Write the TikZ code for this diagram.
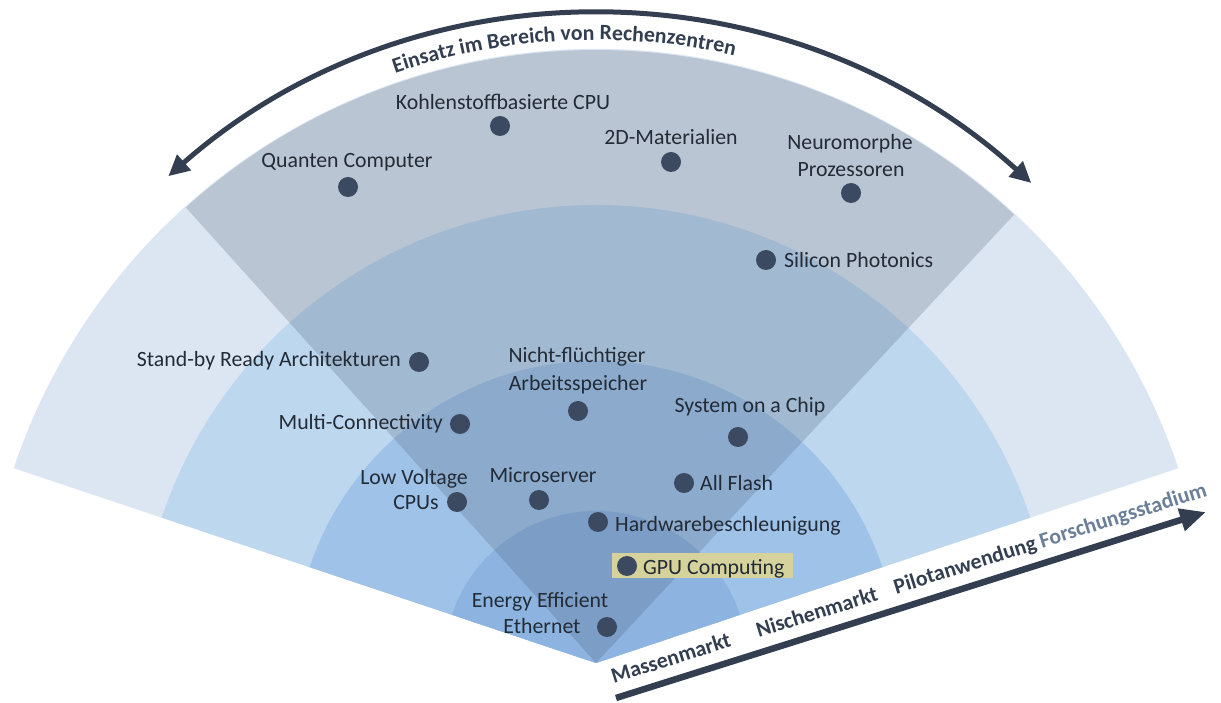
\documentclass[tikz,border=0pt]{standalone}
\usepackage{fontspec}
\setmainfont{Carlito}
\usetikzlibrary{arrows.meta,decorations.text}
\definecolor{ringA}{HTML}{DCE6F2}
\definecolor{ringB}{HTML}{BDD7EE}
\definecolor{ringC}{HTML}{9FC3E8}
\definecolor{ringD}{HTML}{8DB4E1}
\definecolor{wedgec}{HTML}{44546A}
\definecolor{axc}{HTML}{333F50}
\definecolor{dotc}{HTML}{3B4A60}
\definecolor{txt}{HTML}{232B36}
\definecolor{forsch}{HTML}{6B7F99}
\definecolor{hlc}{HTML}{D6D29C}
\newcommand{\lblfont}{\fontsize{21.8}{26}\selectfont}
\newcommand{\arcfont}{\fontsize{21.8}{26}\selectfont\bfseries\color{axc}}
\begin{document}
\begin{tikzpicture}[x=1pt,y=1pt,
  lbl/.style={font=\lblfont, text=txt, inner sep=0pt, anchor=base},
  axlbl/.style={font=\lblfont\bfseries, text=axc, inner sep=0pt, anchor=base, rotate=17.4},
  dotnode/.style={circle, fill=dotc, minimum size=20pt, inner sep=0pt},
  wedge/.style={fill=wedgec, fill opacity=0.22},
  arcarrow/.style={draw=axc, line width=5pt, {Triangle[length=21pt,width=20pt]}-{Triangle[length=21pt,width=20pt]}},
  axarrow/.style={draw=axc, line width=6.5pt, -{Triangle[length=26pt,width=22pt]}},
  hlbox/.style={fill=hlc, inner sep=0pt, minimum width=181pt, minimum height=25pt, anchor=south west}
]
\useasboundingbox (0,0) rectangle (1221,702);
\fill[white] (0,0) rectangle (1221,702);
\coordinate (C) at (596,39);

% rings
\fill[ringA] (C) -- ([shift={(18.5:614)}]C) arc[start angle=18.5,end angle=161.5,radius=614] -- cycle;
\fill[ringB] (C) -- ([shift={(18.5:458)}]C) arc[start angle=18.5,end angle=161.5,radius=458] -- cycle;
\fill[ringC] (C) -- ([shift={(18.5:302)}]C) arc[start angle=18.5,end angle=161.5,radius=302] -- cycle;
\fill[ringD] (C) -- ([shift={(18.5:152)}]C) arc[start angle=18.5,end angle=161.5,radius=152] -- cycle;
% overlay wedge
\fill[wedge] (C) -- ([shift={(47:613)}]C) arc[start angle=47,end angle=132,radius=613] -- cycle;

% top arc arrow
\coordinate (arcL) at ([shift={(131.3:648)}]C);
\coordinate (arcR) at ([shift={(47.8:648)}]C);
\draw[arcarrow] (arcL) arc[start angle=131.3,end angle=47.8,radius=648];
\path[decorate, decoration={text along path, text align=center,
  text={|\arcfont|Einsatz im Bereich von Rechenzentren}}]
  ([shift={(110:623)}]C) arc[start angle=110,end angle=76,radius=623];

% bottom axis
\coordinate (axS) at (616,4);
\coordinate (axE) at (1206,190);
\draw[axarrow] (axS) -- (axE);
\node[axlbl] (mm) at (673,37) {Massenmarkt};
\node[axlbl] (nm) at (819,83) {Nischenmarkt};
\node[axlbl] (pa) at (967,130) {Pilotanwendung};
\node[axlbl, text=forsch] (fs) at (1125,180) {Forschungsstadium};

% highlight box
\node[hlbox] (gpubox) at (612,124) {};

% dots
\node[dotnode] (qc) at (348,515) {};
\node[dotnode] (kc) at (500,576) {};
\node[dotnode] (dm) at (671,540) {};
\node[dotnode] (np) at (851,509) {};
\node[dotnode] (sp) at (766,442) {};
\node[dotnode] (sb) at (419,340) {};
\node[dotnode] (nf) at (578,291) {};
\node[dotnode] (mc) at (460,278) {};
\node[dotnode] (soc) at (738,265) {};
\node[dotnode] (lv) at (457,200) {};
\node[dotnode] (ms) at (539,202) {};
\node[dotnode] (af) at (684,219) {};
\node[dotnode] (hw) at (598,180) {};
\node[dotnode] (gpu) at (627,136) {};
\node[dotnode] (ee) at (607,75) {};

% labels
\node[lbl] (qcT) at (347,534) {Quanten Computer};
\node[lbl] (kcT) at (503,592) {Kohlenstoffbasierte CPU};
\node[lbl] (dmT) at (671,557) {2D-Materialien};
\node[lbl] (npT1) at (850,552) {Neuromorphe};
\node[lbl] (npT2) at (851,525) {Prozessoren};
\node[lbl, anchor=base west] (spT) at (784,434) {Silicon Photonics};
\node[lbl, anchor=base east] (sbT) at (401,335) {Stand-by Ready Architekturen};
\node[lbl] (nfT1) at (577,339) {Nicht-flüchtiger};
\node[lbl] (nfT2) at (578,311) {Arbeitsspeicher};
\node[lbl, anchor=base east] (mcT) at (443,272) {Multi-Connectivity};
\node[lbl] (socT) at (750,289) {System on a Chip};
\node[lbl] (lvT1) at (414,217) {Low Voltage};
\node[lbl] (lvT2) at (416,192) {CPUs};
\node[lbl] (msT) at (543,219) {Microserver};
\node[lbl, anchor=base west] (afT) at (700,211) {All Flash};
\node[lbl, anchor=base west] (hwT) at (615,171) {Hardwarebeschleunigung};
\node[lbl, anchor=base west] (gpuT) at (643,128) {GPU Computing};
\node[lbl] (eeT1) at (540,95) {Energy Efficient};
\node[lbl] (eeT2) at (542,69) {Ethernet};
\end{tikzpicture}
\end{document}
